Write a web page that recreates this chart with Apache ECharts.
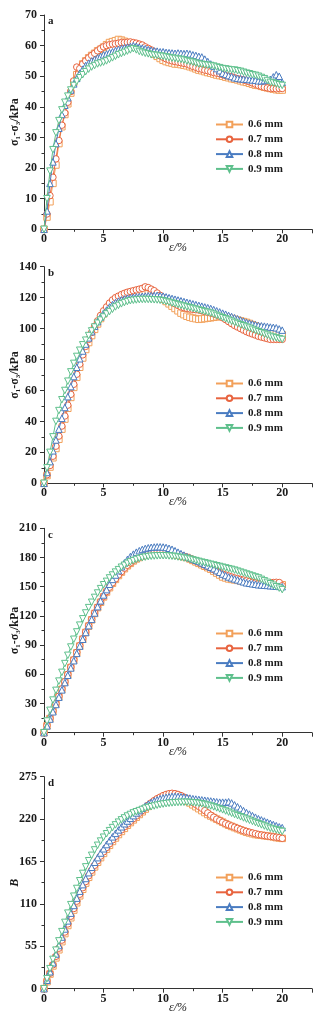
<!DOCTYPE html>
<html><head><meta charset="utf-8">
<script src="https://cdn.jsdelivr.net/npm/echarts@6/dist/echarts.min.js"></script>
<style>html,body{margin:0;padding:0;background:#fff}#c{width:323px;height:1023px}</style>
</head><body><div id="c"></div>
<script>
// strain (%)
const strain = [0,0.25,0.5,0.75, 1,1.25,1.5,1.75, 2,2.25,2.5,2.75, 3,3.25,3.5,3.75, 4,4.25,4.5,4.75,
 5,5.25,5.5,5.75, 6,6.25,6.5,6.75, 7,7.25,7.5,7.75, 8,8.25,8.5,8.75, 9,9.25,9.5,9.75,
 10,10.25,10.5,10.75, 11,11.25,11.5,11.75, 12,12.25,12.5,12.75, 13,13.25,13.5,13.75, 14,14.25,14.5,14.75,
 15,15.25,15.5,15.75, 16,16.25,16.5,16.75, 17,17.25,17.5,17.75, 18,18.25,18.5,18.75, 19,19.25,19.5,19.75, 20];

const seriesNames = ['0.6 mm','0.7 mm','0.8 mm','0.9 mm'];
const panelLetters = ['a','b','c','d'];
const yMax = [70,140,210,275];
const yInterval = [10,20,30,55];

// Panel a
const a06 = [0,4,9,15, 21,28,33.5,37.5, 41,44.5,48,50.5, 52.5,54,55,56, 56.8,57.5,58.3,58.8,
 59.5,60.3,61,61.3, 61.6,62,61.8,61.4, 61,60.8,60.6,60.3, 60,59.5,59,58.6, 58,57.2,56.5,55.8,
 55.2,54.8,54.5,54.3, 54,54,53.8,53.6, 53.4,53.1,52.8,52.4, 52,51.8,51.5,51.2, 51,50.7,50.4,50.2,
 50,49.7,49.5,49.2, 49,48.8,48.5,48.2, 48,47.7,47.4,47.1, 47,46.7,46.4,46.2, 46,45.8,45.6,45.5, 45.5];
const a07 = [0,5,11,17, 23,29,34,38, 41.5,45,48.5,53, 52.5,54,55,56, 56.8,57.5,58.3,59,
 59.6,60,60.3,60.5, 60.6,60.8,61,61, 61.1,61.2,61,60.8, 60.5,60.2,59.6,59.1, 58.6,58,57.3,56.7,
 56.2,55.7,55.3,55, 54.8,54.6,54.4,54.2, 54,53.6,53.2,52.9, 52.5,52.3,52,51.8, 51.5,51.2,51,50.8,
 50.5,50.2,50,49.8, 49.5,49.2,49,48.8, 48.5,48.2,47.8,47.4, 47,46.7,46.4,46.2, 46,46,45.9,46, 46];
const a08 = [0,6,15,22, 28,33,37.5,40.5, 43,45.5,47.5,49.3, 51,52.3,53.5,54.3, 55,55.5,56,56.5,
 57,57.3,57.7,58, 58.4,58.8,59,59.3, 59.5,59.7,60,59.8, 59.5,59.2,59,58.7, 58.5,58.3,58.2,58,
 58,57.8,57.7,57.6, 57.5,57.6,57.5,57.4, 57.5,57.3,57,56.8, 56.5,56.3,55.6,54.8, 54,53.3,52.5,51.8,
 51,50.6,50.2,49.9, 49.5,49.3,49.2,49.1, 49,48.9,48.8,48.7, 48.5,48.5,48.6,48.8, 49,49.8,50.5,50, 48];
const a09 = [0,10,19,26, 31.5,35.5,39,41.5, 43.5,45.5,47,48.3, 49.5,50.5,51.5,52.3, 53,53.5,54,54.3,
 54.6,55,55.5,56, 56.5,57,57.4,57.8, 58.2,58.6,59,58.6, 58.1,57.8,57.5,57.3, 57,56.9,56.8,56.6,
 56.5,56.3,56.1,55.9, 55.8,55.6,55.5,55.3, 55,54.8,54.6,54.3, 54,53.9,53.7,53.6, 53.5,53.3,53,52.8,
 52.5,52.4,52.2,52.1, 52,51.8,51.6,51.3, 51,50.8,50.5,50.3, 50,49.6,49.2,48.6, 48,47.8,47.5,47.2, 47];

// Panel b
const b06 = [0,5,10.5,16.5, 22.5,28.5,35,41.5, 48.5,55.5,62,68.5, 75,81,86.5,91, 95.5,99.5,103,106.5,
 109.5,112,114.5,116.5, 118,119,120,121, 121.5,122,122.5,122.8, 123,123,122.8,122.4, 122,121.5,120.8,120,
 119,117.5,116,114.5, 113,111.5,110,109, 108,107.3,106.8,106.4, 106,106.2,106.5,106.8, 107,107.3,107.6,107.8,
 108,107.5,107,106.5, 106,105.5,105,104.5, 104,103.3,102.5,101.8, 101,100.3,99.5,98.8, 98,97.5,97,96.5, 96];
const b07 = [0,5.5,11.5,17.5, 24,30.5,37,43.5, 50.5,57.5,64,70.5, 77,83,88.5,93, 97.5,101.5,105,108.5,
 111.5,114,116.5,118.5, 120,121,122,122.8, 123.5,124,124.5,125, 125.5,126,127,126.5, 125.5,124.5,123,121.5,
 120,119,118,117, 116,115,114,113.5, 113,112.7,112.4,112.2, 112,111.5,111,110.5, 110,109.5,108.8,108,
 107,105.8,104.5,103.2, 102,101,100,99, 98,97.2,96.5,95.8, 95,94.5,94,93.5, 93,93,93,93, 93];
const b08 = [0,7,14,21, 28,35,42,49, 56,62.5,69,75, 80.5,85.5,90,94, 98,101.5,104.5,107.5,
 110,112,114,115.5, 116.8,117.8,118.6,119.2, 119.7,120,120.3,120.5, 120.7,120.9,121,121.2, 121.3,121.4,121.5,121.3,
 121,120.5,120,119.5, 119,118.5,118,117.5, 117,116.5,116,115.5, 115,114.5,114,113.5, 113,112.3,111.5,110.8,
 110,109.3,108.5,107.8, 107,106.3,105.5,104.8, 104,103.5,103,102.5, 102,101.8,101.6,101.3, 101,100.8,100.5,99.8, 99];
const b09 = [0,10,20,30, 40,47,54,60, 66,72,77.5,82, 86,89.5,92.5,95.5, 98.5,101,103.5,105.5,
 107.5,109.5,111,112.5, 114,115,116,116.8, 117.5,118,118.3,118.5, 118.7,118.8,118.8,118.8, 118.7,118.6,118.5,118.3,
 118,117.5,117,116.5, 116,115.5,115,114.5, 114,113.5,113,112.5, 112,111.5,111,110.5, 110,109.3,108.5,107.8,
 107,106.3,105.5,104.8, 104,103.3,102.5,101.8, 101,100.3,99.5,98.8, 98,97.3,96.5,95.8, 95,94.5,94,93.5, 93];

// Panel c
const c06 = [0,7,14.5,22, 29.5,37,44.5,52, 59.5,67,74.5,82, 89,96,103,109.5, 116,122.5,128.5,134,
 139.5,144.5,149,153.5, 157.5,161.5,165,168.5, 171.5,174,176.5,178.5, 180,181.5,182.5,183.5, 184,184.5,185,185,
 185,184.8,184.5,184, 183,182.3,181.5,180.8, 180,178.5,177,175.5, 174,172.5,171,169.5, 168,166,164,162,
 160,159,158,157.5, 157,156.5,156,155.5, 155,154.5,154,153.5, 153,153,153,153, 153,153,152.5,152.5, 152];
const c07 = [0,7.5,15,22.5, 30,37.5,45,52.5, 60,67.5,75,82.5, 89.5,96.5,103.5,110, 116.5,123,129,134.5,
 140,145,149.5,154, 158,162,165.5,169, 172,174.5,177,179, 180.5,182,183,184, 184.8,185.3,185.6,185.8,
 186,185.8,185.5,185, 184,183,182,181, 180,178.8,177.5,176.2, 175,173.5,172,170.5, 169,167.5,166,164.5,
 163,162,161,160, 159,158.3,157.5,156.8, 156,155.3,154.5,153.8, 153,153.2,153.5,153.8, 154,154.3,154.5,154.3, 151];
const c08 = [0,7,14,21.5, 29,36.5,44,51.5, 59,66.5,74,81.5, 89,96,103,110, 116.5,123,129.5,135.5,
 141.5,147,152.5,157.5, 162,166.5,170.5,174.5, 178,181,183.5,185.5, 187,188.3,189.3,190, 190.5,190.8,191,191,
 190.8,190.3,189.5,188.5, 187,185.5,184,182.5, 181,179.8,178.5,177.2, 176,174.5,173,171.5, 170,168.5,166.5,164.8,
 163,161.5,160,159, 158,157,156,155, 154,153.5,153,152.5, 152,151.8,151.5,151.3, 151,150.8,150.5,150.3, 150];
const c09 = [0,12,23,33.5, 43.5,53,62,71, 79.5,88,96,103.5, 110.5,117,123,128.5, 134,139,143.5,148,
 152,155.5,159,162, 165,167.5,170,172, 174,175.5,176.8,178, 179,179.8,180.4,180.9, 181.3,181.5,181.7,181.8,
 181.8,181.8,181.6,181.3, 181,180.5,180,179.5, 179,178.3,177.5,176.8, 176,175.2,174.5,173.8, 173,172.3,171.5,170.8,
 170,169.3,168.5,167.8, 167,166,165,164, 163,162,161,160, 159,157.5,156,154.5, 153,151.5,150,148.5, 147];

// Panel d
const d06 = [0,9,19,29.5, 40,50.5,61,71.5, 82,92,102,111.5, 120.5,129,137,144.5, 151.5,158,164,170,
 175.5,181,186,191, 195.5,200,204,208, 212,215.5,219,222.5, 226,229.5,233,236.5, 239.5,242,244.5,246.5,
 248,249,249.5,249.5, 249,248,246.5,245, 243,241,238.5,236, 233.5,231,228.5,226, 224,222,220,218,
 216,214,212,210.5, 209,207.5,206,204.5, 203,202,201,200, 199.5,199,198.5,198, 197.5,197,196,195.5, 195];
const d07 = [0,10,20,31, 42,52.5,63,73.5, 84,94,104,113.5, 122.5,131,139,146.5, 153.5,160,166,172,
 177.5,183,188,193, 197.5,202,206,210, 213.5,217,220.5,224, 227.5,231,234.5,238, 241,244,246.5,248.5,
 250.5,252,253,253.5, 253,252,250.5,248.5, 246.5,244,241.5,239, 236.5,234,231,228, 225,222.5,220,218,
 216,214,212.5,211, 209.5,208,206.5,205, 204,203,202,201, 200,199.3,198.7,198, 197.5,197,196.5,196, 195];
const d08 = [0,11,22,33.5, 45,56,67,77.5, 88,98,108,117.5, 126.5,135,143,150.5, 157.5,164,170,176,
 181.5,187,192,197, 201.5,206,210,214, 217.5,221,224.5,228, 231,234,237,239.5, 241.5,243.5,245,246.5,
 247.5,248.3,249,249.5, 249.5,249.3,249,248.5, 248,247.3,246.5,246, 245.5,245,244.5,244, 243.5,243,242.5,242,
 242,242,242.5,241, 238.5,236,233.5,231, 228.5,226.5,224.5,222.5, 220.5,219,217.5,216, 214.5,213,211.5,210, 209];
const d09 = [0,13,26,38, 50,62,74,86, 98,109,120,130, 140,149.5,158,166, 173,180,186,191.5,
 196.5,201,205,209, 212.5,216,219,221.5, 224,226,228,229.5, 231,232.5,234,235, 236,237,238,238.8,
 239.5,240,240.5,241, 241.3,241.5,241.7,241.8, 241.8,241.6,241.3,241, 240.5,239.8,239,238, 237,235.8,234.5,233.2,
 232,230.5,229,227.5, 226,224.5,223,221.5, 220,218.5,217,215.5, 214,212.5,211,209.5, 208,207,206,205, 204];

const panels = [[a06,a07,a08,a09],[b06,b07,b08,b09],[c06,c07,c08,c09],[d06,d07,d08,d09]];
const colors = ['#F2A05A','#E8643F','#4A7CC1','#5EC08C'];
const symbols = ['rect','circle','triangle','triangle'];
const symRot = [0,0,0,180];

const gridTops = [15, 266.7, 528.3, 776.7];
const gridHeights = [214.3, 216.6, 204.4, 212];
const legendTops = [119, 378, 628, 872];
const yNames = ['σ₁-σ₃/kPa','σ₁-σ₃/kPa','σ₁-σ₃/kPa','B'];

const FONT = 'Liberation Serif';
const txt = '#1a1a1a';

const grids = [], xAxes = [], yAxes = [], series = [], legends = [], graphics = [];
for (let p = 0; p < 4; p++) {
  grids.push({left: 44, width: 268, top: gridTops[p], height: gridHeights[p], containLabel: false, outerBoundsMode: 'none'});
  xAxes.push({
    type: 'value', gridIndex: p, min: 0, max: 22.5, interval: 5,
    name: 'ε/%', nameLocation: 'middle', nameGap: 13, nameMoveOverlap: false,
    nameTextStyle: {fontFamily: FONT, fontStyle: 'italic', fontSize: 12, color: txt},
    axisLine: {show: true, onZero: false, lineStyle: {color: '#333', width: 1}},
    axisTick: {show: true, length: 4, lineStyle: {color: '#333'}},
    minorTick: {show: true, splitNumber: 2, length: 2.5, lineStyle: {color: '#333'}},
    splitLine: {show: false},
    axisLabel: {margin: 4, fontFamily: FONT, fontWeight: 'bold', fontSize: 12, color: txt, showMaxLabel: false}
  });
  yAxes.push({
    type: 'value', gridIndex: p, min: 0, max: yMax[p], interval: yInterval[p],
    name: yNames[p], nameLocation: 'middle', nameGap: 23, nameMoveOverlap: false,
    nameTextStyle: {fontFamily: FONT, fontStyle: p === 3 ? 'italic' : 'normal', fontWeight: 'bold', fontSize: 12, color: txt},
    axisLine: {show: true, lineStyle: {color: '#333', width: 1}},
    axisTick: {show: true, length: 4, lineStyle: {color: '#333'}},
    minorTick: {show: true, splitNumber: 2, length: 2.5, lineStyle: {color: '#333'}},
    splitLine: {show: false},
    axisLabel: {margin: 7, fontFamily: FONT, fontWeight: 'bold', fontSize: 12, color: txt}
  });
  for (let s = 0; s < 4; s++) {
    const ys = panels[p][s];
    series.push({
      type: 'line', name: seriesNames[s], xAxisIndex: p, yAxisIndex: p,
      data: strain.map((x, i) => [x, ys[i]]),
      symbol: symbols[s], symbolRotate: symRot[s], symbolSize: 6.5, showAllSymbol: true,
      lineStyle: {color: colors[s], width: 1},
      itemStyle: {color: '#fff', borderColor: colors[s], borderWidth: 1},
      color: colors[s], animation: false, z: 2 + s
    });
  }
  legends.push({
    data: seriesNames, orient: 'vertical', left: 215, top: legendTops[p], padding: 0,
    itemWidth: 27, itemHeight: 7, itemGap: 3.8, selectedMode: false,
    textStyle: {fontFamily: FONT, fontWeight: 'bold', fontSize: 11, color: txt, padding: [0,0,0,0]}
  });
  graphics.push({
    type: 'text', left: 48, top: gridTops[p] + 1,
    style: {text: panelLetters[p], font: 'bold 11px "Liberation Serif"', fill: txt}
  });
}

const chart = echarts.init(document.getElementById('c'));
chart.setOption({
  backgroundColor: '#fff', animation: false,
  grid: grids, xAxis: xAxes, yAxis: yAxes, series: series, legend: legends, graphic: graphics
});
</script></body></html>
